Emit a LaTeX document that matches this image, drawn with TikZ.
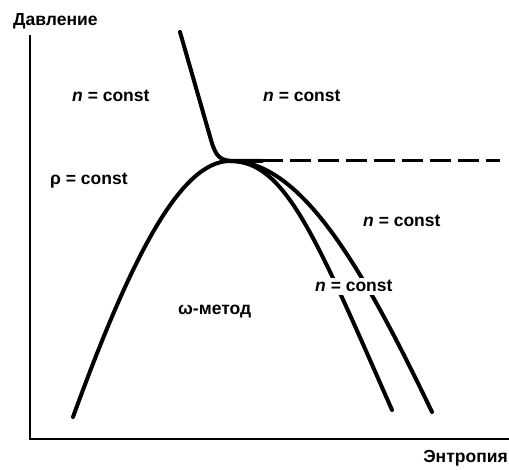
\documentclass[tikz,border=0pt]{standalone}
\usepackage{fontspec}
\setmainfont{Liberation Sans}
\begin{document}
\begin{tikzpicture}[x=1pt,y=-1pt,
  lbl/.style={font=\fontsize{17.5}{20}\selectfont\bfseries, inner sep=0pt, anchor=base west},
  curve/.style={line width=4pt, line cap=round},
  axis/.style={line width=1.6pt},
  dashline/.style={line width=3pt, dash pattern=on 21pt off 7pt}]
\useasboundingbox (0,0) rectangle (509,470);
% axes
\coordinate (ytop) at (30,35);
\coordinate (orig) at (30,439);
\coordinate (xend) at (509,439);
\draw[axis] (ytop) -- (orig) -- (xend);
% dome
\coordinate (lb) at (73,417);
\coordinate (peak) at (230,161);
\coordinate (ib) at (392,410);
\coordinate (ob) at (432,412);
\draw[curve] (lb) .. controls (130,260) and (180,161) .. (peak);
\draw[curve] (peak) .. controls (285,161) and (315,235) .. (ib);
\draw[curve] (peak) .. controls (300,161) and (360,262) .. (ob);
% steep isentrope into horizontal
\coordinate (st) at (180,32);
\coordinate (sk) at (211,140);
\coordinate (hz) at (262,161);
\coordinate (dend) at (500,161);
\draw[curve] (st) -- (sk) .. controls (216,157) and (220,161) .. (235,161) -- (hz);
\draw[dashline] (hz) -- (dend);
% labels
\node[lbl] (ylab) at (13,26) {Давление};
\node[lbl, anchor=base east] (xlab) at (508,462) {Энтропия};
\node[lbl] (n1) at (72,102) {\textit{n} = const};
\node[lbl] (n2) at (263,102) {\textit{n} = const};
\node[lbl] (rho) at (50,185) {ρ = const};
\node[lbl] (n3) at (363,227) {\textit{n} = const};
\node[lbl, fill=white, inner sep=3pt] (n4) at (312,292) {\textit{n} = const};
\node[lbl] (om) at (178,315) {ω-метод};
\end{tikzpicture}
\end{document}
